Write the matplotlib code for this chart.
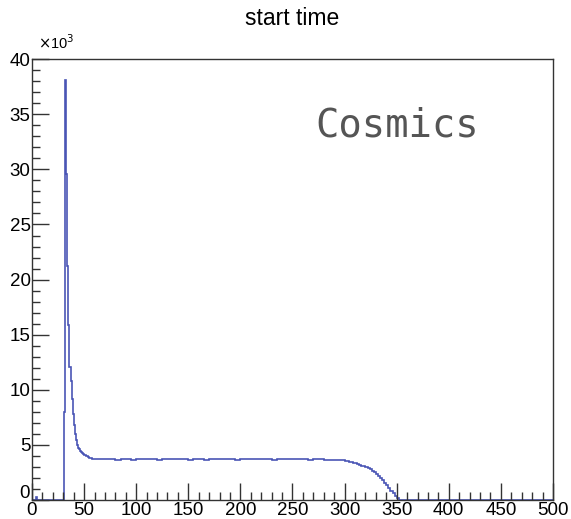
import numpy as np
import matplotlib
matplotlib.use("Agg")
import matplotlib.pyplot as plt
from matplotlib.ticker import MultipleLocator, FuncFormatter

plt.rcParams['font.family'] = ['Liberation Sans', 'DejaVu Sans']

# histogram contents: 1-unit bins over 0..60, 5-unit bins over 60..300,
# 2-unit bins over 300..360, 5-unit bins over 360..500
fine_counts = [0, 0, 0, 0, 300] + [0] * 26 + [
    8000, 38100, 29600, 21200, 15900, 12100, 10800, 9200, 7800, 6800,
    6000, 5400, 5000, 4750, 4600, 4450, 4350, 4250, 4200, 4120,
    4050, 4000, 3950, 3900, 3850, 3820, 3780, 3750, 3730,
]
plateau_counts = [
    3700, 3680, 3720, 3690, 3660, 3710, 3700, 3670, 3690, 3720,
    3680, 3700, 3660, 3690, 3710, 3680, 3700, 3730, 3670, 3690,
    3700, 3660, 3720, 3690, 3680, 3710, 3700, 3670, 3690, 3720,
    3700, 3680, 3710, 3690, 3670, 3700, 3720, 3690, 3680, 3710,
    3700, 3660, 3690, 3680, 3660, 3640, 3620, 3600,
]
falloff_counts = [
    3550, 3500, 3460, 3420, 3380, 3330, 3270, 3200, 3130, 3050,
    2970, 2880, 2780, 2660, 2520, 2360, 2180, 1980, 1770, 1550,
    1320, 1080, 850, 600, 370, 150, 20, 0, 0, 0,
]
tail_counts = [0] * 28

counts = np.array(fine_counts + plateau_counts + falloff_counts + tail_counts, dtype=float)
edges = np.concatenate([np.arange(0, 60, 1), np.arange(60, 300, 5),
                        np.arange(300, 360, 2), np.arange(360, 501, 5)])

fig = plt.figure(figsize=(5.71, 5.19), dpi=100)
ax = fig.add_axes([0.056, 0.0366, 0.9125, 0.8494])

ax.stairs(counts, edges, color='#4a55b5', linewidth=1.2)

ax.set_xlim(0, 500)
ax.set_ylim(0, 40000)

ax.xaxis.set_major_locator(MultipleLocator(50))
ax.xaxis.set_minor_locator(MultipleLocator(10))
ax.yaxis.set_major_locator(MultipleLocator(5000))
ax.yaxis.set_minor_locator(MultipleLocator(1000))
# the y "0" is drawn separately, a bit higher, so it clears the x "0"
ax.yaxis.set_major_formatter(FuncFormatter(lambda v, p: "" if v == 0 else f"{v / 1000:g}"))

ax.tick_params(which='both', direction='in', top=False, right=False,
               color='#333333', width=1.0, labelsize=13.5)
ax.tick_params(axis='x', which='major', length=12, pad=1.5)
ax.tick_params(axis='x', which='minor', length=6)
ax.tick_params(axis='y', which='major', length=12, pad=1)
ax.tick_params(axis='y', which='minor', length=6)

for s in ax.spines.values():
    s.set_color('#333333')
    s.set_linewidth(1.0)

ax.annotate("0", xy=(0, 0), xycoords='axes fraction', xytext=(-1.5, 4.5),
            textcoords='offset points', ha='right', va='center', fontsize=13.5)

fig.text(0.066, 0.905, r"$\times$10$^{3}$", fontsize=10.5, ha='left', va='baseline')
fig.text(0.512, 0.965, "start time", fontsize=16.5, ha='center', va='center')
fig.text(0.553, 0.737, "Cosmics", fontsize=28, family='DejaVu Sans Mono',
         color='#555555', ha='left', va='baseline')

fig.savefig("out.png", dpi=100)
